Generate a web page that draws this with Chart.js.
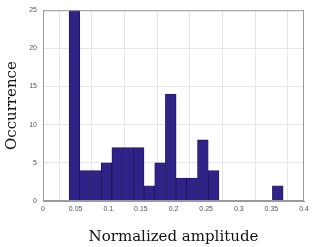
<!DOCTYPE html>
<html>
<head>
<meta charset="utf-8">
<script src="https://cdn.jsdelivr.net/npm/chart.js@4"></script>
<style>
  html, body { margin: 0; padding: 0; background: #fff; }
  #wrap { width: 315px; height: 247px; }
</style>
</head>
<body>
<div id="wrap"><canvas id="hist_chart"></canvas></div>
<script>
// histogram bins (centres) and counts
binCentres = [0.0482, 0.0646, 0.0810, 0.0974, 0.1138, 0.1302, 0.1466, 0.1630, 0.1794, 0.1958, 0.2122, 0.2286, 0.2450, 0.2614, 0.2778, 0.2942, 0.3106, 0.3270, 0.3434, 0.3598]
counts = [25, 4, 4, 5, 7, 7, 7, 2, 5, 14, 3, 3, 8, 4, 0, 0, 0, 0, 0, 2]
xTicks = [0, 0.05, 0.1, 0.15, 0.2, 0.25, 0.3, 0.35, 0.4]
yTicks = [0, 5, 10, 15, 20, 25]

points = []
for (i = 0; i < binCentres.length; i++) {
  if (counts[i] > 0) points.push({ x: binCentres[i], y: counts[i] })
}

// MATLAB style box round the axes
boxPlugin = {
  id: 'box',
  afterDraw(chart) {
    a = chart.chartArea
    c = chart.ctx
    c.save()
    c.strokeStyle = '#9a9a9a'
    c.lineWidth = 1
    c.strokeRect(a.left + 0.5, a.top + 0.5, a.right - a.left - 1, a.bottom - a.top - 1)
    c.restore()
  }
}

config = {
  type: 'bar',
  data: {
    datasets: [{
      label: 'Occurrence',
      data: points,
      backgroundColor: '#2f2388',
      borderColor: '#1c1458',
      borderWidth: 0.8,
      barPercentage: 1,
      categoryPercentage: 1,
    }]
  },
  options: {
    responsive: true,
    maintainAspectRatio: false,
    animation: false,
    layout: { padding: { top: 8, right: 11, left: 0, bottom: 0 } },
    plugins: {
      legend: { display: false },
      tooltip: { enabled: false },
    },
    scales: {
      x: {
        type: 'linear',
        min: 0,
        max: 0.4,
        offset: false,
        afterBuildTicks: s => { s.ticks = xTicks.map(v => ({ value: v })) },
        afterFit: s => { s.height = 46 },
        ticks: {
          autoSkip: false,
          maxRotation: 0,
          padding: 4,
          color: '#555',
          font: { family: 'Liberation Sans', size: 7 },
          callback: v => String(Number(v.toFixed(2))),
        },
        grid: { color: '#e6e6e6', tickLength: 0 },
        border: { color: '#9a9a9a' },
        title: {
          display: true,
          text: 'Normalized amplitude',
          color: '#111',
          font: { family: 'DejaVu Serif', size: 15 },
          padding: { top: 0, bottom: 1 },
        },
      },
      y: {
        min: 0,
        max: 25,
        afterBuildTicks: s => { s.ticks = yTicks.map(v => ({ value: v })) },
        afterFit: s => { s.width = 43 },
        ticks: {
          padding: 6,
          color: '#555',
          font: { family: 'Liberation Sans', size: 7 },
        },
        grid: { color: '#e6e6e6', tickLength: 0 },
        border: { color: '#9a9a9a' },
        title: {
          display: true,
          text: 'Occurrence',
          color: '#111',
          font: { family: 'DejaVu Serif', size: 15 },
          padding: { top: 3, bottom: 0 },
        },
      },
    },
  },
  plugins: [boxPlugin],
}

ctx = document.getElementById('hist_chart')
new Chart(ctx, config)
</script>
</body>
</html>
